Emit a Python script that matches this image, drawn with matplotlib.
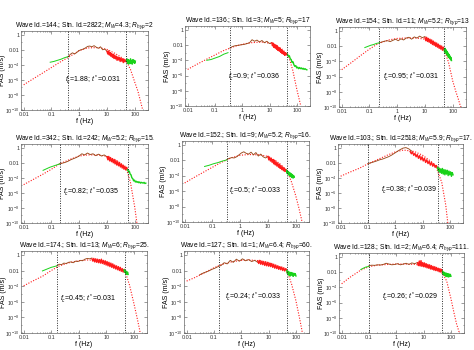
import matplotlib
matplotlib.use("Agg")
import matplotlib.pyplot as plt
import numpy as np

plt.rcParams["font.family"] = ["Liberation Sans", "DejaVu Sans"]
plt.rcParams["mathtext.fontset"] = "custom"
plt.rcParams["mathtext.rm"] = "Liberation Sans"
plt.rcParams["mathtext.it"] = "Liberation Sans:italic"

# ---- panel texts ----
TITLES = [
    "Wave Id.=144.; Stn. Id.=2822; $M_W$=4.3; $R_{hyp}$=2",
    "Wave Id.=136.; Stn. Id.=3; $M_W$=5; $R_{hyp}$=17",
    "Wave Id.=154.; Stn. Id.=11; $M_W$=5.2; $R_{hyp}$=13",
    "Wave Id.=342.; Stn. Id.=242; $M_W$=5.2; $R_{hyp}$=15.",
    "Wave Id.=152.; Stn. Id.=9; $M_W$=5.2; $R_{hyp}$=16.",
    "Wave Id.=103.; Stn. Id.=2518; $M_W$=5.9; $R_{hyp}$=17.",
    "Wave Id.=174.; Stn. Id.=13; $M_W$=6; $R_{hyp}$=25.",
    "Wave Id.=127.; Stn. Id.=1; $M_W$=6.4; $R_{hyp}$=60.",
    "Wave Id.=128.; Stn. Id.=2; $M_W$=6.4; $R_{hyp}$=111.",
]
FC = ["1.88", "0.9", "0.95", "0.82", "0.5", "0.38", "0.45", "0.24", "0.26"]
TSTAR = ["0.031", "0.036", "0.031", "0.035", "0.033", "0.039", "0.031", "0.033", "0.029"]
ANNOT_F = [0.3, 0.3, 0.32, 0.26, 0.4, 0.3, 0.2, 0.25, 0.3]
ANNOT_LOGY = [-6.0, -6.1, -6.0, -5.8, -6.0, -5.55, -5.6, -5.4, -5.2]

# usable band limits (Hz)
F_LO = [0.4, 0.35, 0.23, 0.195, 0.33, 0.1, 0.16, 0.15, 0.1]
F_HI = [50, 45, 49, 55, 47, 35, 48, 46, 49]

# ---- fitted model spectra, log10(FAS) ----
MODEL_F = [0.01, 0.02, 0.05, 0.1, 0.2, 0.5, 1, 2, 5, 10, 20, 30, 50,
           70, 100, 130, 160, 200, 250, 300]
MODEL = [
    [-6.65, -5.95, -5.05, -4.35, -3.65, -2.8, -2.1, -1.75, -1.7, -1.95, -2.5, -2.9, -3.55,
     -4.6, -6.3, -7.5, -8.8, -10.2, -12, -14],
    [-5.2, -4.6, -3.85, -3.3, -2.75, -2.2, -1.9, -1.7, -1.6, -1.75, -2.2, -2.6, -3.5,
     -5.3, -7.9, -9.6, -11, -13, -15, -17],
    [-5.1, -4.3, -3.2, -2.4, -1.7, -1.2, -1.0, -0.95, -0.95, -1.1, -1.5, -1.9, -2.6,
     -4.1, -6.6, -8.0, -9.0, -10.2, -12, -14],
    [-4.9, -4.3, -3.5, -2.85, -2.13, -1.5, -1.1, -0.95, -0.95, -1.15, -1.6, -2.0, -2.8,
     -4.6, -7.9, -11, -14, -18, -22, -26],
    [-4.94, -4.3, -3.5, -2.9, -2.3, -1.65, -1.35, -1.25, -1.3, -1.5, -2.1, -2.6, -3.5,
     -4.8, -6.6, -8.2, -9.6, -11.3, -13.5, -16],
    [-3.78, -3.3, -2.7, -2.13, -1.65, -1.0, -0.55, -0.3, -0.5, -1.0, -1.8, -2.4, -4.6,
     -7.6, -12.5, -16, -20, -25, -30, -35],
    [-3.96, -3.4, -2.7, -2.0, -1.4, -0.95, -0.75, -0.65, -0.7, -0.95, -1.4, -1.75, -2.3,
     -3.9, -6.2, -8.0, -9.5, -11.5, -14, -17],
    [-3.35, -2.9, -2.2, -1.65, -1.2, -0.85, -0.7, -0.65, -0.75, -1.0, -1.4, -1.65, -2.3,
     -3.8, -5.9, -7.8, -9.4, -11.3, -13.8, -16],
    [-3.54, -2.7, -1.75, -1.3, -1.1, -1.0, -0.95, -0.95, -1.0, -1.15, -1.45, -1.7, -2.2,
     -3.2, -5.5, -7.4, -8.8, -9.9, -11.5, -13],
]

# ---- observed spectra, log10(FAS); each segment = (f start, f end) + values ----
GREEN_LO_F = [(0.09, 0.4), (0.05, 0.3), (0.068, 0.23), (0.05, 0.195), (0.052, 0.33),
              (0.05, 0.1), (0.048, 0.16), (0.03, 0.15), (0.05, 0.1)]
GREEN_LO = [
    [-3.65, -3.55, -3.4, -3.25, -3.05, -2.9],
    [-4.0, -3.9, -3.7, -3.5, -3.2, -3.0],
    [-2.2, -2.05, -1.9, -1.8, -1.65, -1.57],
    [-3.0, -2.8, -2.6, -2.45, -2.3, -2.15],
    [-2.8, -2.65, -2.45, -2.3, -2.1, -1.95],
    [],
    [-2.05, -1.9, -1.75, -1.6, -1.5, -1.4],
    [],
    [-1.67, -1.55, -1.45, -1.35, -1.3, -1.25],
]

MID_F = [(0.4, 10), (0.35, 12), (0.23, 10), (0.195, 10), (0.33, 10),
         (0.1, 4), (0.16, 3), (0.03, 4), (0.1, 6)]
MID = [
    [-2.9, -2.6, -2.4, -2.55, -2.35, -2.1, -2.0, -1.9, -1.75, -1.55, -1.5, -1.6, -1.45,
     -1.65, -1.8, -1.6, -2.0, -1.9, -2.2],
    [-2.4, -2.2, -2.1, -2.05, -2.0, -1.95, -1.9, -1.8, -1.7, -1.3, -1.5, -1.35, -1.6,
     -1.4, -1.7, -1.5, -1.8, -1.7],
    [-1.57, -1.45, -1.35, -1.3, -1.42, -1.25, -1.1, -1.3, -1.05, -1.2, -0.95, -0.85,
     -1.1, -0.8, -0.95, -0.7, -0.9, -0.75],
    [-2.13, -2.05, -1.95, -1.8, -1.6, -1.45, -1.3, -1.1, -0.8, -0.95, -0.7, -0.9, -0.8,
     -1.05, -0.85, -1.1, -0.95, -1.2],
    [-1.9, -1.75, -1.65, -1.7, -1.55, -1.3, -1.05, -0.9, -1.1, -1.2, -0.95, -1.3, -1.0,
     -1.45, -1.2, -1.55, -1.7, -1.5],
    [-2.13, -2.0, -1.88, -1.75, -1.6, -1.5, -1.35, -1.2, -1.0, -0.75, -0.5, -0.25,
     -0.05, 0.02, -0.15, -0.45],
    [-1.4, -1.2, -1.25, -1.05, -1.1, -0.95, -0.9, -1.0, -0.8, -0.85, -0.7, -0.75, -0.55,
     -0.45, -0.5, -0.4],
    [-2.55, -2.35, -2.2, -2.05, -1.85, -1.7, -1.5, -1.35, -1.0, -1.15, -0.7, -0.95,
     -0.55, -0.8, -0.5, -0.75, -0.6, -0.85, -0.7, -0.95],
    [-1.15, -1.1, -1.12, -1.05, -1.08, -1.0, -0.85, -0.95, -1.05, -1.0, -0.9, -1.05,
     -0.95, -0.85, -1.0, -0.8, -0.9, -0.75],
]

FIT_F = [(10, 50), (12, 45), (10, 49), (10, 55), (10, 47),
         (3.5, 35), (3, 48), (4, 46), (6, 49)]
FIT = [
    [-2.2, -2.55, -2.15, -2.7, -2.35, -2.85, -2.5, -3.0, -2.6, -3.15, -2.7, -3.2, -2.85,
     -3.4, -2.95, -3.35, -3.05, -3.55, -3.1, -3.5, -3.2, -3.7, -3.25, -3.6, -3.35, -3.55],
    [-1.7, -2.1, -1.75, -2.3, -1.9, -2.4, -2.0, -2.55, -2.1, -2.7, -2.3, -2.8, -2.4,
     -2.95, -2.6, -3.1, -2.75, -3.2, -2.9, -3.35, -3.0, -3.3, -3.1, -3.3],
    [-0.9, -1.3, -0.85, -1.4, -1.0, -1.5, -1.1, -1.65, -1.2, -1.8, -1.35, -1.9, -1.5,
     -2.05, -1.6, -2.15, -1.75, -2.3, -1.9, -2.4, -2.0, -2.55, -2.15, -2.5],
    [-1.2, -1.6, -1.15, -1.75, -1.3, -1.85, -1.45, -2.0, -1.55, -2.15, -1.7, -2.3, -1.85,
     -2.4, -2.0, -2.55, -2.15, -2.7, -2.3, -2.85, -2.45, -2.95, -2.6, -2.9],
    [-1.5, -1.95, -1.6, -2.1, -1.75, -2.25, -1.9, -2.45, -2.0, -2.6, -2.2, -2.75, -2.35,
     -2.9, -2.5, -3.05, -2.7, -3.2, -2.85, -3.35, -3.0, -3.45, -3.15, -3.4],
    [-0.5, -0.8, -0.55, -1.0, -0.75, -1.2, -0.9, -1.4, -1.05, -1.6, -1.2, -1.75, -1.4,
     -1.95, -1.6, -2.1, -1.8, -2.3, -1.95, -2.45, -2.15, -2.6, -2.35, -2.7],
    [-0.5, -0.8, -0.45, -0.9, -0.5, -0.95, -0.55, -1.0, -0.6, -1.05, -0.55, -1.1, -0.7,
     -1.2, -0.75, -1.3, -0.85, -1.4, -0.95, -1.5, -1.05, -1.6, -1.15, -1.7, -1.3, -1.8,
     -1.4, -1.9, -1.5, -2.0, -1.6, -2.1, -1.75, -2.2, -1.85, -2.1],
    [-0.75, -1.1, -0.7, -1.2, -0.8, -1.25, -0.85, -1.35, -0.9, -1.4, -0.95, -1.45, -1.05,
     -1.5, -1.1, -1.6, -1.2, -1.7, -1.3, -1.75, -1.4, -1.85, -1.5, -1.9, -1.55, -2.0,
     -1.65, -2.05, -1.75, -1.95],
    [-0.8, -1.15, -0.55, -1.2, -0.5, -1.25, -0.75, -1.3, -0.8, -1.35, -0.9, -1.45, -1.0,
     -1.5, -1.05, -1.6, -1.15, -1.65, -1.25, -1.75, -1.3, -1.8, -1.4, -1.85, -1.5, -1.95,
     -1.55, -2.0, -1.65, -1.95],
]

GREEN_HI_F = [(50, 105), (45, 230), (49, 90), (55, 250), (47, 88),
              (35, 130), (44, 62), (46, 100), (49, 100)]
GREEN_HI = [
    [-3.5, -3.2, -3.8, -3.3, -3.9, -3.4, -3.75, -3.2, -3.85, -3.45, -3.9, -3.3, -3.7,
     -3.4, -3.8, -3.5],
    [-3.2, -3.5, -3.4, -3.8, -3.9, -4.3, -4.2, -4.6, -4.8, -4.7, -5.0, -4.9, -5.1, -4.95,
     -5.1, -5.0, -5.15, -5.05, -5.2, -5.1, -5.2, -5.25],
    [-2.4, -2.8, -2.3, -2.9, -2.5, -3.1, -2.7, -3.3, -2.9, -3.5, -3.1, -3.6, -3.3, -3.8,
     -3.5, -3.9],
    [-2.9, -3.2, -3.1, -3.5, -3.6, -4.0, -4.1, -4.4, -4.3, -4.55, -4.45, -4.6, -4.5,
     -4.65, -4.55, -4.7, -4.6, -4.65, -4.7, -4.6, -4.75, -4.7],
    [-3.3, -3.7, -3.4, -3.8, -3.5, -3.95, -3.6, -4.05, -3.7, -4.15, -3.8, -4.25, -3.9,
     -4.3, -4.0, -4.2],
    [-2.6, -3.1, -2.7, -3.3, -2.8, -3.4, -2.75, -3.5, -2.9, -3.6, -2.95, -3.5, -3.0,
     -3.7, -3.1, -3.6, -3.2, -3.8, -3.3, -3.6],
    [-1.9, -2.2, -2.0, -2.4, -2.1, -2.5, -2.2, -2.5],
    [-2.0, -2.4, -2.1, -2.6, -2.2, -2.7, -2.25, -2.6, -2.3, -2.75, -2.35, -2.6, -2.4,
     -2.7],
    [-1.9, -2.3, -2.0, -2.45, -2.1, -2.55, -2.15, -2.6, -2.2, -2.65, -2.25, -2.6, -2.3,
     -2.55],
]

# axes boxes in figure pixels: left, top, width, height
BOXES = [
    (21, 31, 127, 79), (185, 26, 125, 80), (339, 27, 127, 80),
    (21, 144, 127, 79), (182, 141, 127, 81), (338, 144, 125, 79),
    (21, 251, 126, 82), (184, 251, 125, 82), (339, 253, 125, 80),
]
W, H = 474, 350

C_GREEN = "#19d219"
C_RED = "#ff1a1a"
C_BROWN = "#9a4a1c"


def draw_seg(ax, frange, vals, **kw):
    if not vals:
        return
    f = np.geomspace(frange[0], frange[1], len(vals))
    ax.plot(f, 10.0 ** np.asarray(vals, dtype=float), **kw)


fig = plt.figure(figsize=(W / 100, H / 100), dpi=100)

for i in range(9):
    l, t, w, h = BOXES[i]
    ax = fig.add_axes([l / W, 1 - (t + h) / H, w / W, h / H])
    ax.set_xscale("log")
    ax.set_yscale("log")

    ax.plot(MODEL_F, 10.0 ** np.asarray(MODEL[i], dtype=float), color=C_RED, lw=0.8,
            ls=(0, (1, 1.4)), zorder=2)
    draw_seg(ax, MID_F[i], MID[i], color=C_BROWN, lw=0.65, zorder=3)
    draw_seg(ax, FIT_F[i], FIT[i], color=C_RED, lw=1.0, zorder=4)
    draw_seg(ax, GREEN_LO_F[i], GREEN_LO[i], color=C_GREEN, lw=0.7, zorder=5)
    draw_seg(ax, GREEN_HI_F[i], GREEN_HI[i], color=C_GREEN, lw=1.0, zorder=5)

    ax.axvline(F_LO[i], color="0.15", ls=(0, (1, 1.5)), lw=0.7, zorder=6)
    ax.axvline(F_HI[i], color="0.15", ls=(0, (1, 1.5)), lw=0.7, zorder=6)

    ax.text(ANNOT_F[i], 10.0 ** ANNOT_LOGY[i],
            f"$f_c$={FC[i]}; $t^*$={TSTAR[i]}", fontsize=5, va="center",
            ha="left", zorder=7)

    ax.set_xlim(0.008, 300)
    ax.set_ylim(1e-10, 10 ** 0.5)
    ax.set_xticks([0.01, 0.1, 1, 10, 100])
    ax.set_xticklabels(["0.01", "0.1", "1", "10", "100"])
    ax.set_yticks([1, 1e-2, 1e-4, 1e-6, 1e-8, 1e-10])
    ax.set_yticklabels(["1", "0.01", "$10^{-4}$", "$10^{-6}$", "$10^{-8}$",
                        "$10^{-10}$"])
    ax.set_yticks([1e-1, 1e-3, 1e-5, 1e-7, 1e-9], minor=True)
    ax.yaxis.set_minor_formatter(plt.NullFormatter())
    ax.xaxis.set_minor_formatter(plt.NullFormatter())
    ax.tick_params(which="both", direction="in", top=True, right=True,
                   width=0.4, colors="0.3", labelcolor="0.2", labelsize=3.9, pad=1.2)
    ax.tick_params(which="major", length=2)
    ax.tick_params(which="minor", length=1)
    for sp in ax.spines.values():
        sp.set_linewidth(0.5)
        sp.set_color("0.4")

    ax.set_title(TITLES[i], fontsize=4.8, pad=3)
    ax.set_xlabel("f (Hz)", fontsize=5, labelpad=1)
    ax.set_ylabel("FAS (m/s)", fontsize=5)
    ax.yaxis.set_label_coords(-0.115, 0.5)

fig.savefig("out.png", dpi=100)
